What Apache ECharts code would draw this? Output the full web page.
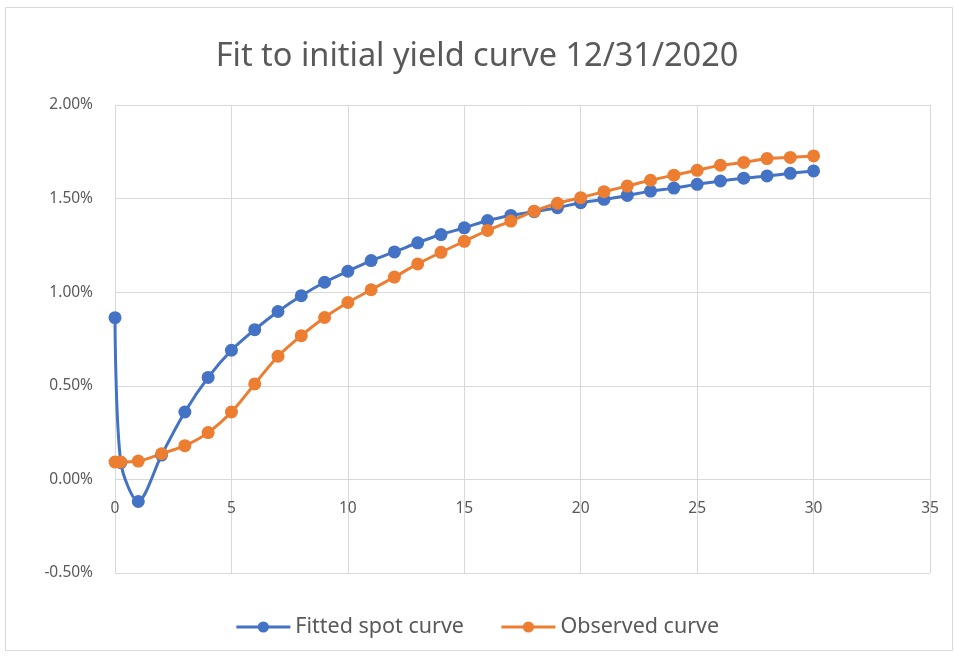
<!DOCTYPE html>
<html>
<head>
<meta charset="utf-8">
<script src="https://cdn.jsdelivr.net/npm/echarts@6/dist/echarts.min.js"></script>
<style>
  html, body { margin: 0; padding: 0; background: #fff; }
  #chart { width: 954px; height: 657px; }
</style>
</head>
<body>
<div id="chart"></div>
<script>
// maturity in years
const maturities = [0, 0.25, 1, 2, 3, 4, 5, 6, 7, 8, 9, 10, 11, 12, 13, 14, 15,
  16, 17, 18, 19, 20, 21, 22, 23, 24, 25, 26, 27, 28, 29, 30]
// yields in percent
const fittedSpot = [0.864, 0.09, -0.118, 0.13, 0.36, 0.545, 0.69, 0.80, 0.897, 0.981, 1.053, 1.112,
  1.169, 1.215, 1.264, 1.308, 1.344, 1.383, 1.41, 1.43, 1.451, 1.478, 1.496, 1.517,
  1.54, 1.556, 1.576, 1.594, 1.609, 1.621, 1.635, 1.648]
const observed = [0.093, 0.093, 0.098, 0.137, 0.18, 0.25, 0.36, 0.51, 0.658, 0.768, 0.865, 0.945,
  1.013, 1.081, 1.151, 1.213, 1.272, 1.33, 1.38, 1.433, 1.475, 1.505, 1.537, 1.567,
  1.598, 1.625, 1.651, 1.678, 1.693, 1.714, 1.72, 1.728]
const seriesNames = ['Fitted spot curve', 'Observed curve']

const pairs = (ys) => maturities.map((m, i) => [m, ys[i]])

const chart = echarts.init(document.getElementById('chart'))
const textColor = '#595959'
const gridColor = '#d9d9d9'
const font = 'Noto Sans'

// plot box: 105..573 px for -0.5%..2%, so the 0% line sits 93.6px above the bottom
const zeroOffset = -93.6

const option = {
  color: ['#4472c4', '#ed7d31'],
  animation: false,
  title: {
    text: 'Fit to initial yield curve 12/31/2020',
    left: 'center',
    top: 35,
    textStyle: { color: textColor, fontSize: 32.5, fontWeight: 'normal', fontFamily: font }
  },
  legend: {
    data: seriesNames,
    top: 611,
    left: 'center',
    itemWidth: 54,
    itemHeight: 14,
    itemGap: 36,
    lineStyle: { width: 3 },
    textStyle: { color: textColor, fontSize: 21.5, fontFamily: font }
  },
  graphic: [{
    type: 'rect',
    shape: { x: 5.5, y: 7.5, width: 947, height: 643 },
    style: { fill: 'none', stroke: gridColor, lineWidth: 1 },
    silent: true
  }],
  grid: { left: 115, right: 24, top: 105, bottom: 84 },
  xAxis: {
    type: 'value',
    min: 0,
    max: 35,
    interval: 5,
    offset: zeroOffset,
    axisLine: { show: true, onZero: false, lineStyle: { color: gridColor, width: 1 } },
    axisTick: { show: false },
    axisLabel: { color: textColor, fontSize: 15.5, fontFamily: font, margin: 21 },
    splitLine: { show: true, lineStyle: { color: gridColor, width: 1 } }
  },
  yAxis: {
    type: 'value',
    min: -0.5,
    max: 2,
    interval: 0.5,
    axisLine: { show: false },
    axisTick: { show: false },
    axisLabel: {
      color: textColor, fontSize: 15.5, fontFamily: font, margin: 22,
      formatter: (v) => v.toFixed(2) + '%'
    },
    splitLine: { show: true, lineStyle: { color: gridColor, width: 1 } }
  },
  series: [
    {
      name: seriesNames[0],
      type: 'line',
      data: pairs(fittedSpot),
      smooth: 0.3,
      symbol: 'circle',
      symbolSize: 13,
      lineStyle: { width: 3 }
    },
    {
      name: seriesNames[1],
      type: 'line',
      data: pairs(observed),
      smooth: 0.3,
      symbol: 'circle',
      symbolSize: 13,
      lineStyle: { width: 3 }
    }
  ]
}
chart.setOption(option)
</script>
</body>
</html>
